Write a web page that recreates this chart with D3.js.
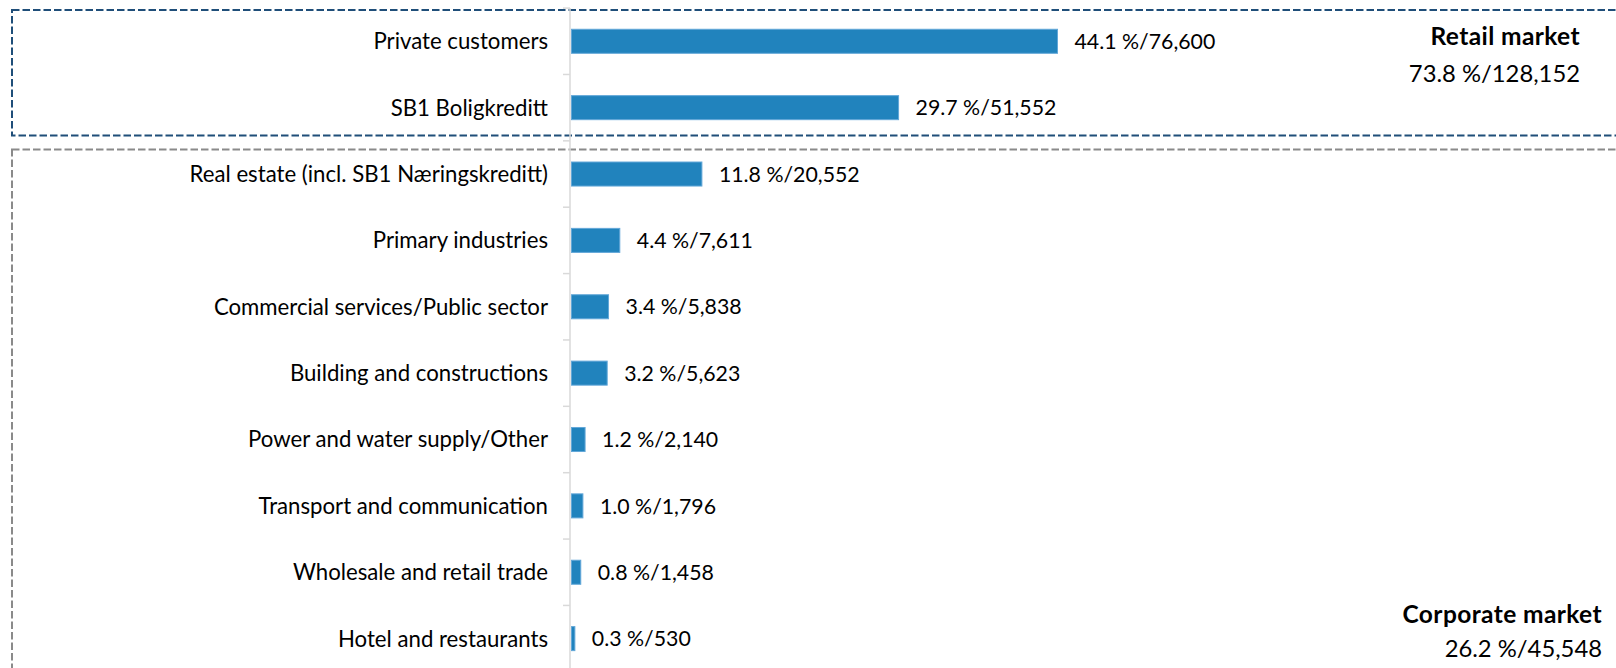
<!DOCTYPE html>
<html>
<head>
<meta charset="utf-8">
<script src="https://cdn.jsdelivr.net/npm/d3@7"></script>
<style>
  html, body { margin: 0; padding: 0; background: #fff; }
  svg { display: block; }
  text { font-family: Lato, "Open Sans", sans-serif; fill: #000; }
</style>
</head>
<body>
<svg id="chart" width="1616" height="668"></svg>
<script>
// Loan portfolio by sector: share of total (%) and amount (NOK million)
const categories = [
  "Private customers",
  "SB1 Boligkreditt",
  "Real estate (incl. SB1 Næringskreditt)",
  "Primary industries",
  "Commercial services/Public sector",
  "Building and constructions",
  "Power and water supply/Other",
  "Transport and communication",
  "Wholesale and retail trade",
  "Hotel and restaurants"
];
const sharePct = [44.1, 29.7, 11.8, 4.4, 3.4, 3.2, 1.2, 1.0, 0.8, 0.3];
const amounts  = [76600, 51552, 20552, 7611, 5838, 5623, 2140, 1796, 1458, 530];

// Market segment totals
const segments    = ["Retail market", "Corporate market"];
const segmentPct  = [73.8, 26.2];
const segmentAmt  = [128152, 45548];

const svg = d3.select("#chart");
const fmt = d3.format(",");
const label = (p, a) => `${p.toFixed(1)} %/${fmt(a)}`;

const axisX = 570;
const x = d3.scaleLinear().domain([0, 80000]).range([axisX + 1.5, axisX + 1.5 + 80000 * 486 / 76600]);
const y = d3.scaleBand()
  .domain(categories)
  .range([8.1, 671.8])
  .paddingInner(0.638)
  .paddingOuter(0.319);
const step = y.step();

// Segment frames
const frames = svg.append("g");
frames.append("rect")
  .attr("x", 12).attr("y", 10)
  .attr("width", 1640).attr("height", 125.5)
  .attr("fill", "none")
  .attr("stroke", "#1f4e79")
  .attr("stroke-width", 2)
  .attr("stroke-dasharray", "7.5,3");
frames.append("rect")
  .attr("x", 12).attr("y", 149.5)
  .attr("width", 1640).attr("height", 600)
  .attr("fill", "none")
  .attr("stroke", "#8a8a8a")
  .attr("stroke-width", 2)
  .attr("stroke-dasharray", "7.5,3");

// Category axis: line plus tick marks between categories
const axisG = svg.append("g");
const y0 = y.range()[0], y1 = y.range()[1];
axisG.append("line")
  .attr("x1", axisX).attr("x2", axisX)
  .attr("y1", y0).attr("y2", y1)
  .attr("stroke", "#d9d9d9").attr("stroke-width", 1.5);
const tickYs = d3.range(categories.length + 1).map(i => y0 + i * step);
axisG.selectAll("line.tick")
  .data(tickYs).join("line")
  .attr("class", "tick")
  .attr("x1", axisX - 7).attr("x2", axisX)
  .attr("y1", d => d).attr("y2", d => d)
  .attr("stroke", "#d9d9d9").attr("stroke-width", 1.5);

// Category labels
svg.append("g").selectAll("text")
  .data(categories).join("text")
  .attr("x", 548)
  .attr("y", d => y(d) + y.bandwidth() / 2)
  .attr("dy", "0.36em")
  .attr("text-anchor", "end")
  .style("font-size", "22.2px")
  .text(d => d);

// Bars
const rows = categories.map((c, i) => ({ c, pct: sharePct[i], amt: amounts[i] }));
svg.append("g").selectAll("rect")
  .data(rows).join("rect")
  .attr("x", x(0))
  .attr("y", d => y(d.c))
  .attr("width", d => x(d.amt) - x(0))
  .attr("height", y.bandwidth())
  .attr("fill", "#2183bd")
  .attr("stroke", "#62a7d8")
  .attr("stroke-width", 1);

// Value labels
svg.append("g").selectAll("text")
  .data(rows).join("text")
  .attr("x", d => x(d.amt) + 17)
  .attr("y", d => y(d.c) + y.bandwidth() / 2)
  .attr("dy", "0.36em")
  .style("font-size", "21.3px")
  .text(d => label(d.pct, d.amt));

// Segment totals
const segPos = [
  { right: 1580, top: 45, second: 82 },
  { right: 1602, top: 623, second: 657 }
];
segments.forEach((s, i) => {
  const g = svg.append("g");
  g.append("text")
    .attr("x", segPos[i].right).attr("y", segPos[i].top)
    .attr("text-anchor", "end")
    .style("font-size", "24.5px")
    .style("font-weight", "bold")
    .style("letter-spacing", "0.4px")
    .text(s);
  g.append("text")
    .attr("x", segPos[i].right).attr("y", segPos[i].second)
    .attr("text-anchor", "end")
    .style("font-size", "23.8px")
    .text(label(segmentPct[i], segmentAmt[i]));
});
</script>
</body>
</html>
